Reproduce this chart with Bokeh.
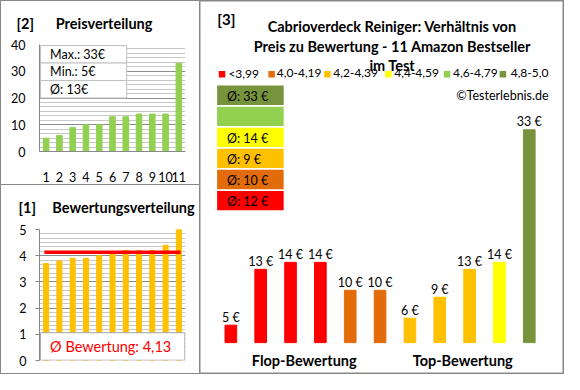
from bokeh.plotting import figure
from bokeh.models import (ColumnDataSource, Range1d, SingleIntervalTicker, FixedTicker,
                          Title, Spacer)
from bokeh.layouts import row, column
from bokeh.embed import file_html
from bokeh.resources import INLINE
from bokeh.core.properties import value

# ---------------- data ----------------
ranks = [1, 2, 3, 4, 5, 6, 7, 8, 9, 10, 11]
prices_sorted = [5, 6, 9, 10, 10, 13, 13, 14, 14, 14, 33]
price_stats = ["Max.: 33€", "Min.: 5€", "Ø: 13€"]
ratings_sorted = [3.7, 3.8, 3.9, 3.9, 4.0, 4.1, 4.2, 4.2, 4.2, 4.4, 5.0]
rating_avg = 4.13
rating_avg_text = "Ø Bewertung: 4,13"

products = [1, 2, 3, 4, 5, 6, 7, 8, 9, 10, 11]
product_prices = [5, 13, 14, 14, 10, 10, 6, 9, 13, 14, 33]
product_ratings = [3.7, 3.8, 3.9, 3.9, 4.0, 4.1, 4.2, 4.2, 4.2, 4.4, 5.0]

class_labels = ["<3,99", "4,0-4,19", "4,2-4,39", "4,4-4,59", "4,6-4,79", "4,8-5,0"]
class_lower = [0.0, 4.0, 4.2, 4.4, 4.6, 4.8]
class_colors = ["#FF0000", "#E36C0A", "#FFC000", "#FFFF00", "#92D050", "#77933C"]
class_avg_price = [12, 10, 9, 14, None, 33]

# ---------------- style / layout ----------------
FONT = "Lato"
BORDER = "#888888"
W_L, W_R = 198, 365
H_T, H_B = 183, 188
H_ALL = 1 + H_T + 1 + H_B + 1
EN = "\u2002"


def base_fig(**kw):
    p = figure(output_backend="svg", toolbar_location=None, **kw)
    p.outline_line_color = None
    p.background_fill_color = "white"
    p.border_fill_color = "white"
    return p


def style_y_axis(p, ticker, tick_out, standoff):
    p.yaxis.ticker = ticker
    p.yaxis.major_label_text_font = FONT
    p.yaxis.major_label_text_font_size = "12.5px"
    p.yaxis.major_label_text_color = "#000000"
    p.yaxis.axis_line_color = BORDER
    p.yaxis.major_tick_line_color = BORDER
    p.yaxis.major_tick_out = tick_out
    p.yaxis.major_tick_in = 0
    p.yaxis.minor_tick_line_color = None
    p.yaxis.major_label_standoff = standoff
    p.ygrid.grid_line_color = "#8C8C8C"
    p.ygrid.minor_grid_line_color = "#C8C8C8"
    p.xgrid.grid_line_color = None


def panel_title(text, offset, standoff):
    return Title(text=text, align="left", offset=offset, vertical_align="top",
                 standoff=standoff, text_font=FONT, text_font_size="14.5px",
                 text_font_style="bold", text_color="#000000")


# ---------- panel [2] Preisverteilung ----------
p2 = base_fig(width=W_L, height=H_T, x_range=Range1d(0.5, 11.5), y_range=Range1d(0, 40),
              min_border_left=38, min_border_right=14, min_border_top=43, min_border_bottom=31)
style_y_axis(p2, SingleIntervalTicker(interval=10, num_minor_ticks=6), 0, 10)
p2.xaxis.ticker = FixedTicker(ticks=ranks)
p2.xaxis.major_label_text_font = FONT
p2.xaxis.major_label_text_font_size = "12.5px"
p2.xaxis.major_label_text_color = "#000000"
p2.xaxis.axis_line_color = BORDER
p2.xaxis.major_tick_line_color = None
p2.xaxis.minor_tick_line_color = None
p2.xaxis.major_label_standoff = 14

p2.vbar(x=ranks, top=prices_sorted, width=0.42, color="#92D050")

n_rows = len(price_stats)
box_top, box_bottom = 39.6, 20.0
row_h = (box_top - box_bottom) / n_rows
tops = [box_top - i * row_h for i in range(n_rows)]
bots = [t - row_h for t in tops]
p2.quad(left=0.58, right=7.07, top=tops, bottom=bots, fill_color="white",
        line_color="#BFBFBF", line_width=1)
p2.text(x=[1.3] * n_rows, y=[(t + b) / 2 for t, b in zip(tops, bots)], text=price_stats,
        text_font=value(FONT), text_font_size="12.5px", text_baseline="middle",
        text_align="left", text_color="#000000")
p2.add_layout(panel_title("[2]" + EN * 3 + "Preisverteilung", -23, 22), "above")

# ---------- panel [1] Bewertungsverteilung ----------
p1 = base_fig(width=W_L, height=H_B, x_range=Range1d(0.5, 11.5), y_range=Range1d(0, 5),
              x_axis_location=None,
              min_border_left=31, min_border_right=14, min_border_top=44, min_border_bottom=13)
style_y_axis(p1, SingleIntervalTicker(interval=1, num_minor_ticks=6), 4, 9)

p1.vbar(x=ranks, top=ratings_sorted, bottom=0, width=0.38, color="#FFC000")
p1.line(x=[ranks[0], ranks[-1]], y=[rating_avg, rating_avg], line_width=3.5,
        line_color="#FF0000", line_cap="square")
p1.quad(left=0.57, right=11.45, bottom=0.01, top=1.06, fill_color="white",
        line_color="#A6A6A6", line_width=1)
p1.text(x=[5.86], y=[0.52], text=[rating_avg_text], text_font=value(FONT),
        text_font_size="14.5px", text_color="#FF0000", text_align="center",
        text_baseline="middle")
p1.add_layout(panel_title("[1]" + EN * 2 + "\u2009" + "Bewertungsverteilung", -21, 23), "above")

# ---------- panel [3] Verhältnis Preis / Bewertung ----------
BASE = 2.5  # value axis minimum of this panel
p3 = base_fig(width=W_R, height=H_ALL, x_range=Range1d(-0.05, 12.18),
              y_range=Range1d(-2.07, 51.53), x_axis_location=None, y_axis_location=None,
              min_border_left=0, min_border_right=0, min_border_top=0, min_border_bottom=0)
p3.xgrid.grid_line_color = None
p3.ygrid.grid_line_color = None
p3.outline_line_color = BORDER
p3.outline_line_width = 2


def rating_class(r):
    k = 0
    for i, lo in enumerate(class_lower):
        if r >= lo:
            k = i
    return k


bar_colors = [class_colors[rating_class(r)] for r in product_ratings]
src3 = ColumnDataSource(dict(x=products, top=product_prices, color=bar_colors,
                             label=[f"{v} €" for v in product_prices]))
p3.vbar(x="x", top="top", bottom=BASE, width=0.39, color="color", source=src3)
p3.text(x="x", y="top", text="label", source=src3, text_font=value(FONT),
        text_font_size="12.5px", text_align="center", text_baseline="alphabetic",
        y_offset=-8, text_color="#000000")

order = list(range(len(class_labels)))[::-1]
bx_top0, bx_pitch, bx_h = 39.34, 3.02, 2.77
bx_tops = [bx_top0 - i * bx_pitch for i in range(len(order))]
p3.quad(left=0.54, right=2.77, top=bx_tops, bottom=[t - bx_h for t in bx_tops],
        fill_color=[class_colors[k] for k in order], line_color=None)
txt_y, txt = [], []
for i, k in enumerate(order):
    if class_avg_price[k] is not None:
        txt_y.append(bx_tops[i] - bx_h / 2)
        txt.append(f"Ø: {class_avg_price[k]} €")
p3.text(x=[0.87] * len(txt), y=txt_y, text=txt, text_font=value(FONT), text_font_size="12.5px",
        text_baseline="middle", text_align="left", y_offset=1, text_color="#000000")

leg_sq_x = [0.705, 2.367, 4.236, 6.279, 8.246, 10.115]
leg_tx_x = [0.918, 2.541, 4.433, 6.475, 8.443, 10.377]
p3.scatter(x=leg_sq_x, y=[40.95] * 6, marker="square", size=6.5, fill_color=class_colors,
           line_color=None)
p3.text(x=leg_tx_x, y=[41.07] * 6, text=class_labels, text_font=value(FONT),
        text_font_size="12px", text_baseline="middle", text_align="left", text_color="#000000")

p3.text(x=[11.646], y=[37.96], text=["©Testerlebnis.de"], text_font=value(FONT),
        text_font_size="12.5px", text_baseline="middle", text_align="right", text_color="#000000")

title_lines = ["Cabrioverdeck Reiniger: Verhältnis von",
               "Preis zu Bewertung - 11 Amazon Bestseller", "im Test"]
p3.text(x=[6.41] * 3, y=[47.75, 44.95, 42.2], text=title_lines, text_font=value(FONT),
        text_font_size="14.5px", text_font_style="bold", text_align="center",
        text_baseline="alphabetic", text_color="#000000")
p3.text(x=[0.85], y=[48.9], text=["[3]"], text_font=value(FONT), text_font_size="15px",
        text_font_style="bold", text_align="center", text_baseline="middle")
p3.text(x=[3.46, 8.77], y=[-0.06, -0.06], text=["Flop-Bewertung", "Top-Bewertung"],
        text_font=value(FONT), text_font_size="14.5px", text_font_style="bold",
        text_align="center", text_baseline="alphabetic", text_color="#000000")


def hline(w):
    return Spacer(width=w, height=1, styles={"background-color": BORDER})


left_col = column(hline(W_L), p2, hline(W_L), p1, hline(W_L), spacing=0)
left_edge = Spacer(width=1, height=H_ALL, styles={"background-color": BORDER})
layout = row(left_edge, left_col, p3, spacing=0)
open("out.html", "w").write(file_html(layout, INLINE))
